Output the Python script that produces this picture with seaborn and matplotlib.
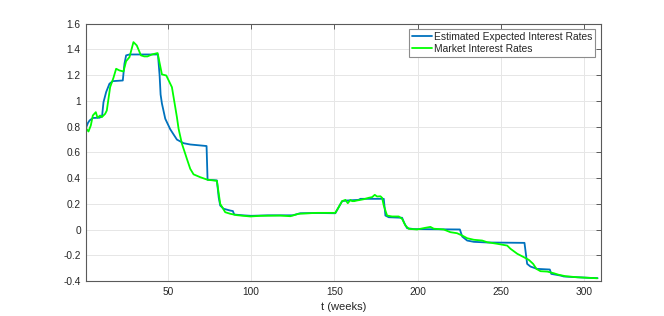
import matplotlib
matplotlib.use("Agg")
import matplotlib.pyplot as plt
import seaborn as sns
import pandas as pd
import numpy as np

# ---- data ----
weeks_est = [1, 2, 3, 5, 9, 10.5, 11.3, 12.9, 14.9, 16.9, 22.9, 23.9, 24.9, 26.9,
             44.0, 45.0, 45.6, 46.4, 48.4, 51.4, 55.4, 59.4, 63.4, 73.2, 73.8, 79.4,
             80.5, 81.4, 83.4, 87.4, 89.0, 89.8, 95, 100, 110, 125, 129.5, 140, 150.5,
             154.6, 157.6, 164.5, 165.6, 179.6, 180.6, 182.6, 190.6, 192.0, 193.6, 197.6,
             225.3, 226.7, 229.7, 233.7, 241.7, 264.1, 265.7, 267.7, 271.7, 279.3, 280.2,
             285.8, 287.7, 295.8, 303.8, 308]
rate_est = [0.797, 0.83, 0.849, 0.868, 0.87, 0.887, 0.99, 1.069, 1.134, 1.154, 1.159, 1.289,
            1.354, 1.361, 1.361, 1.2, 1.05, 0.98, 0.862, 0.78, 0.70, 0.672, 0.662, 0.65,
            0.388, 0.383, 0.25, 0.188, 0.163, 0.149, 0.145, 0.118, 0.112, 0.108, 0.112,
            0.112, 0.128, 0.13, 0.128, 0.222, 0.227, 0.232, 0.24, 0.24, 0.11, 0.097, 0.093,
            0.05, 0.012, 0.005, 0.002, -0.053, -0.084, -0.094, -0.099, -0.102, -0.265,
            -0.286, -0.304, -0.309, -0.343, -0.356, -0.363, -0.369, -0.374, -0.376]

weeks_mkt = [1, 2.3, 3.7, 4.9, 6.7, 7.7, 9.3, 10.3, 12.3, 13.3, 15.3, 17.3, 18.9, 20.9, 23.3,
             24.9, 26.9, 29.3, 31.3, 33.8, 35.8, 37.7, 40.4, 43.8, 46.4, 49, 52.4, 54.4,
             55.4, 56.4, 58.4, 60.4, 61.4, 63.4, 65.4, 69.4, 73.8, 79.4, 81.4, 84.4, 87.4,
             91.4, 99.5, 105.5, 117.5, 123.5, 128.5, 139.5, 147.5, 150.5, 152.5, 154.6,
             156.6, 158, 159.6, 160.6, 161.9, 163.5, 165.6, 167.6, 170.6, 172.6, 174.2,
             175.6, 177.6, 178.6, 179.6, 181.6, 184.6, 188.6, 190.6, 192.6, 194.6, 199.6,
             204.6, 207.6, 209.6, 215.6, 219.6, 223.6, 226.7, 229.7, 233.7, 238.7, 241.7,
             247.7, 253.7, 255.7, 259.8, 263.7, 266.7, 269.3, 271.3, 273.7, 277.8, 281.7,
             284.7, 288.8, 295.8, 307.8]
rate_mkt = [0.784, 0.763, 0.81, 0.887, 0.913, 0.87, 0.887, 0.874, 0.90, 0.926, 1.107, 1.18,
            1.25, 1.237, 1.229, 1.309, 1.34, 1.457, 1.431, 1.354, 1.346, 1.346, 1.361, 1.372,
            1.206, 1.198, 1.107, 0.952, 0.874, 0.784, 0.668, 0.59, 0.55, 0.473, 0.43, 0.408,
            0.388, 0.38, 0.201, 0.136, 0.124, 0.113, 0.103, 0.108, 0.11, 0.105, 0.124, 0.131,
            0.131, 0.131, 0.175, 0.222, 0.232, 0.206, 0.232, 0.222, 0.222, 0.227, 0.232,
            0.237, 0.248, 0.253, 0.271, 0.258, 0.26, 0.248, 0.188, 0.11, 0.103, 0.103, 0.085,
            0.033, 0.007, 0.002, 0.015, 0.022, 0.008, 0.002, -0.019, -0.027, -0.045, -0.066,
            -0.078, -0.084, -0.097, -0.109, -0.123, -0.148, -0.187, -0.213, -0.234, -0.265,
            -0.304, -0.322, -0.325, -0.338, -0.35, -0.361, -0.369, -0.377]

series_names = ["Estimated Expected Interest Rates", "Market Interest Rates"]
series_colors = ["#0072BD", "#00FF00"]
x_ticks = [50, 100, 150, 200, 250, 300]
y_ticks = [-0.4, -0.2, 0, 0.2, 0.4, 0.6, 0.8, 1, 1.2, 1.4, 1.6]
y_tick_labels = ["-0.4", "-0.2", "0", "0.2", "0.4", "0.6", "0.8", "1", "1.2", "1.4", "1.6"]

df_est = pd.DataFrame({"week": weeks_est, "rate": rate_est, "series": series_names[0]})
df_mkt = pd.DataFrame({"week": weeks_mkt, "rate": rate_mkt, "series": series_names[1]})

sns.set_style("white")
plt.rcParams["font.family"] = ["Liberation Sans", "DejaVu Sans"]
plt.rcParams["axes.unicode_minus"] = False

fig = plt.figure(figsize=(6.64, 3.16), dpi=100)
ax = fig.add_axes([0.13, 0.11, 0.775, 0.815])

sns.lineplot(data=df_est, x="week", y="rate", color=series_colors[0], lw=1.3,
             ax=ax, label=series_names[0], sort=False, estimator=None)
sns.lineplot(data=df_mkt, x="week", y="rate", color=series_colors[1], lw=1.3,
             ax=ax, label=series_names[1], sort=False, estimator=None)

ax.set_xlim(1, 310)
ax.set_ylim(-0.4, 1.6)
ax.set_xticks(x_ticks)
ax.set_xticklabels([str(t) for t in x_ticks])
ax.set_yticks(y_ticks)
ax.set_yticklabels(y_tick_labels)

ax.grid(True, color="#e6e6e6", lw=0.7)
ax.set_axisbelow(True)
for sp in ax.spines.values():
    sp.set_visible(True)
    sp.set_color("#5a5a5a")
    sp.set_linewidth(0.8)
ax.tick_params(axis="both", which="both", direction="in", length=3.7, width=0.7,
               color="#5a5a5a", labelcolor="#262626", labelsize=7.3,
               top=True, right=True, pad=4)

ax.set_xlabel("t (weeks)", fontsize=8, color="#262626", labelpad=4)
ax.set_ylabel("")

leg = ax.legend(loc="upper right", bbox_to_anchor=(595 / 664, 1 - 28.7 / 316),
                bbox_transform=fig.transFigure, borderaxespad=0,
                fontsize=7.4, frameon=True, fancybox=False,
                edgecolor="#8c8c8c", framealpha=1, borderpad=0.3, labelspacing=0.22,
                handlelength=1.95, handletextpad=0.13)
leg.get_frame().set_linewidth(0.8)
for t in leg.get_texts():
    t.set_color("#262626")

fig.savefig("out.png", dpi=100)
